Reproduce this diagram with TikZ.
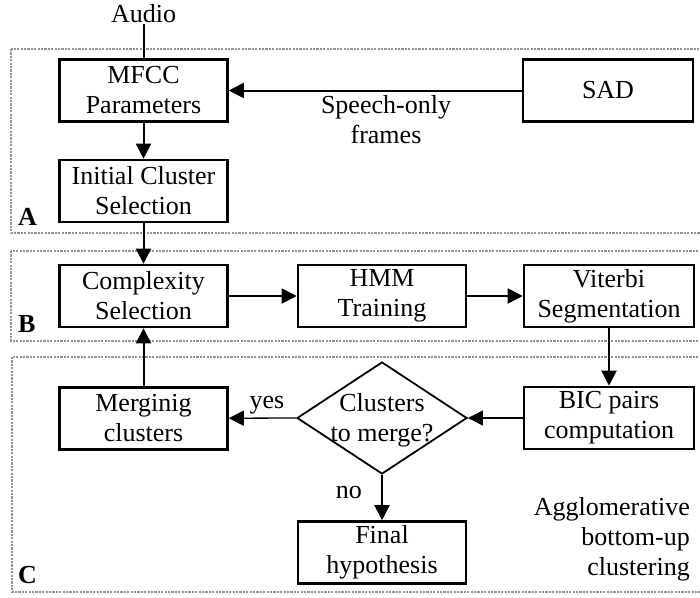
\documentclass[tikz,border=0pt]{standalone}
\usepackage{fontspec}
\setmainfont{Liberation Serif}
\usetikzlibrary{arrows.meta,shapes.geometric}

\begin{document}
\begin{tikzpicture}[x=1pt,y=-1pt,
  every node/.style={font=\fontsize{26}{30}\selectfont},
  stepbox/.style={draw, line width=2.6pt, minimum width=168pt, minimum height=62pt,
                  align=center, inner sep=0pt},
  widebox/.style={stepbox, minimum width=170pt},
  decision/.style={draw, diamond, line width=1.8pt, minimum width=170pt,
                   minimum height=112pt, inner sep=0pt},
  region/.style={draw=gray!85, line width=1.1pt, dash pattern=on 2.2pt off 1.2pt},
  flow/.style={line width=2pt, -{Triangle[length=15pt,width=15pt]}},
  thinflow/.style={line width=1.3pt, -{Triangle[length=15pt,width=15pt]}},
  tag/.style={font=\fontsize{26}{30}\selectfont\bfseries, anchor=base west, inner sep=0pt},
  note/.style={align=center, inner sep=0pt}
]
\useasboundingbox (0,0) rectangle (700,597);

% stage frames (open to the right)
\draw[region] (11,49) rectangle (705,233);
\draw[region] (11,251) rectangle (705,341);
\draw[region] (12,357) rectangle (705,592);
\node[tag] (tagA) at (18,225) {A};
\node[tag] (tagB) at (18,332) {B};
\node[tag] (tagC) at (18,583) {C};

% stage A: front end
\node[anchor=base, inner sep=2pt] (audio) at (143.5,22) {Audio};
\node[stepbox] (mfcc) at (143.5,90.5) {MFCC\\Parameters};
\node[widebox] (sad) at (608,90.5) {SAD};
\node[stepbox] (init) at (143.5,191) {Initial Cluster\\Selection};
\node[note] (speech) at (386,120) {Speech-only\\frames};

% stage B: model training
\node[stepbox] (cplx) at (143.5,296) {Complexity\\Selection};
\node[stepbox] (hmm) at (382,296) {HMM\\Training};
\node[widebox] (vit) at (609,296) {Viterbi\\Segmentation};

% stage C: clustering loop
\node[widebox] (bic) at (609,418) {BIC pairs\\computation};
\node[decision] (dec) at (382,418) {};
\node[note] (dectext) at (382,420) {Clusters\\to merge?};
\node[stepbox] (merge) at (143.5,418.5) {Merginig\\clusters};
\node[stepbox] (final) at (382,552.5) {Final\\hypothesis};
\node[anchor=base, inner sep=0pt] (yes) at (267,408) {yes};
\node[anchor=base east, inner sep=0pt] (no) at (362,498) {no};
\node[align=right, anchor=east, inner sep=0pt] (aggl) at (690,539)
  {Agglomerative\\bottom-up\\clustering};

% connectors
\draw[line width=2pt] (audio) -- (mfcc);
\draw[flow] (sad) -- (mfcc);
\draw[flow] (mfcc) -- (init);
\draw[flow] (init) -- (cplx);
\draw[flow] (cplx) -- (hmm);
\draw[flow] (hmm) -- (vit);
\draw[flow] (vit) -- (bic);
\draw[thinflow] (bic) -- (dec.east);
\draw[thinflow] (dec.west) -- (merge);
\draw[flow] (merge) -- (cplx);
\draw[flow] (dec.south) -- (final);
\end{tikzpicture}
\end{document}
